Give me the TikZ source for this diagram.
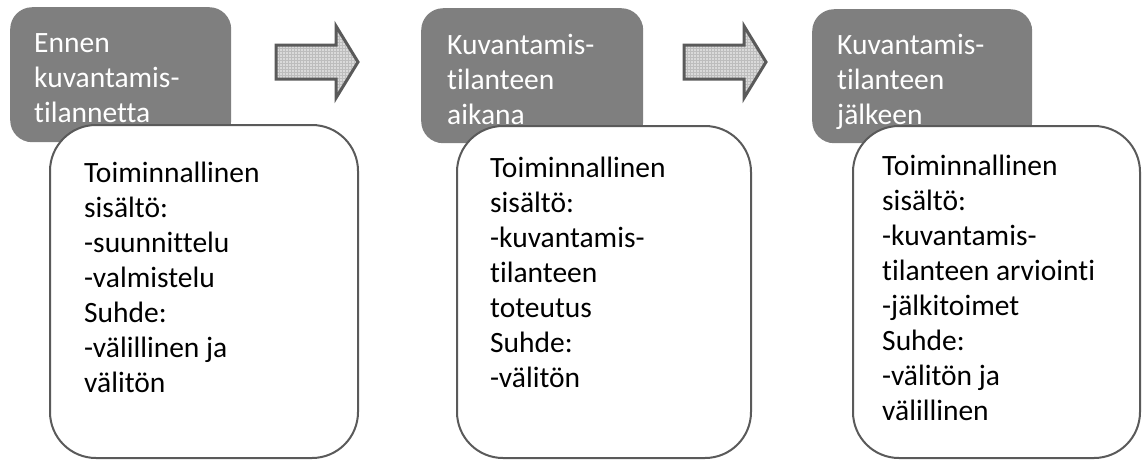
\documentclass[tikz,border=0pt]{standalone}
\usepackage{fontspec}
\setmainfont{Carlito}[Ligatures={NoCommon,NoContextual}]
\usetikzlibrary{patterns}
\definecolor{headgray}{HTML}{7F7F7F}
\definecolor{edgegray}{HTML}{5A5A5A}
\definecolor{arrowfill}{HTML}{DADADA}
\definecolor{arrowgrid}{HTML}{BDBDBD}
\begin{document}
\begin{tikzpicture}[x=1pt,y=-1pt,
  phase/.style={fill=headgray, draw=none, rounded corners=22pt, anchor=north west, inner sep=0pt},
  detail/.style={fill=white, draw=edgegray, line width=2pt, rounded corners=46pt, anchor=north west, inner sep=0pt},
  headtext/.style={anchor=base west, inner sep=0pt, align=left, text=white, font=\fontsize{29.5}{35}\selectfont},
  bodytext/.style={anchor=base west, inner sep=0pt, align=left, text=black, font=\fontsize{29.5}{35}\selectfont},
  blockarrow/.style={draw=edgegray, line width=3pt, line join=miter, preaction={fill=arrowfill}, pattern=grid, pattern color=arrowgrid}]
\useasboundingbox (0,0) rectangle (1143,459);

% phase headers (text nodes are anchored at the baseline of their last line)
\node[phase, minimum width=221pt, minimum height=135pt] (p1) at (10,7) {};
\node[phase, minimum width=222pt, minimum height=135pt] (p2) at (421,8) {};
\node[phase, minimum width=220pt, minimum height=134pt] (p3) at (812,9) {};

\node[headtext] (h1) at (34,122) {Ennen\\kuvantamis-\\tilannetta};
\node[headtext] (h2) at (447,124) {Kuvantamis-\\tilanteen\\aikana};
\node[headtext] (h3) at (837,124) {Kuvantamis-\\tilanteen\\jälkeen};

% block arrows between the phases
\path[blockarrow] (276,45) -- (336,45) -- (336,26) -- (358,62) -- (336,98) -- (336,79) -- (276,79) -- cycle;
\path[blockarrow] (684,45) -- (744,45) -- (744,26) -- (766,62) -- (744,98) -- (744,79) -- (684,79) -- cycle;

% content boxes
\node[detail, minimum width=308pt, minimum height=333pt] (d1) at (49,124) {};
\node[detail, minimum width=294pt, minimum height=332pt] (d2) at (456,125) {};
\node[detail, minimum width=287pt, minimum height=332pt] (d3) at (852,125) {};

\node[bodytext] (b1) at (84,392) {Toiminnallinen\\sisältö:\\-suunnittelu\\-valmistelu\\Suhde:\\-välillinen ja\\välitön};
\node[bodytext] (b2) at (490,387) {Toiminnallinen\\sisältö:\\-kuvantamis-\\tilanteen\\toteutus\\Suhde:\\-välitön};
\node[bodytext] (b3) at (882,420) {Toiminnallinen\\sisältö:\\-kuvantamis-\\tilanteen arviointi\\-jälkitoimet\\Suhde:\\-välitön ja\\välillinen};
\end{tikzpicture}
\end{document}
